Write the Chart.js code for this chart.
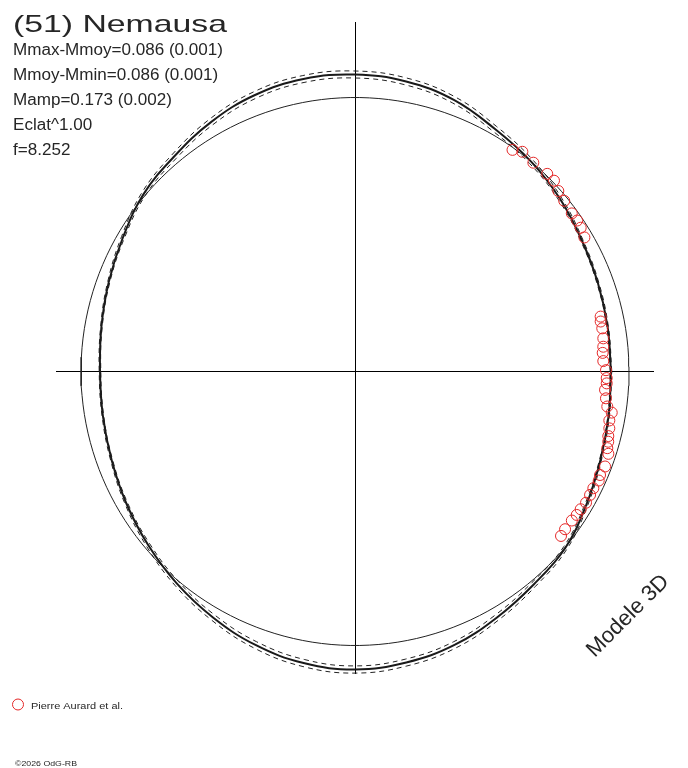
<!DOCTYPE html>
<html>
<head>
<meta charset="utf-8">
<script src="https://cdn.jsdelivr.net/npm/chart.js@4.4.1/dist/chart.umd.min.js"></script>
<style>
  html, body { margin: 0; padding: 0; background: #fff; }
  canvas { display: block; }
</style>
</head>
<body>
<canvas id="chart" width="688" height="768"></canvas>
<script>
// rotational phase (deg) and plotted radius of the 3D model curve
const modelPhase = [0, 10, 20, 30, 40, 50, 60, 70, 80, 90, 100, 110, 120, 130, 140, 150, 160, 170,
                    180, 190, 200, 210, 220, 230, 240, 250, 260, 270, 280, 290, 300, 310, 320, 330, 340, 350];
const modelRadius = [256, 256.5, 258.5, 262, 268, 274, 280, 289, 294.5, 297, 297, 294, 288, 281, 276, 268, 262, 257.5,
                     255, 256, 259, 264, 270, 277, 284, 291, 296, 298, 295.5, 291, 284, 278, 274.5, 267, 261, 257.5];
// half width of the dashed uncertainty envelope
const modelSpread = [0.8, 0.8, 1, 1.2, 1.8, 2.4, 3, 3.3, 3.5, 3.5, 3.5, 3.4, 3.2, 2.8, 2.2, 1.6, 1.1, 0.8,
                     0.8, 0.8, 1, 1.4, 2, 2.6, 3, 3.4, 3.6, 3.6, 3.5, 3.3, 3, 2.6, 2, 1.5, 1, 0.8];

// observations (Pierre Aurard et al.)
const obsPhase = [54.6, 52.7, 49.5, 45.8, 43.8, 41.6, 39.2, 36.1, 34.2, 32.5, 30.3,
                  12.6, 11.5, 9.9, 7.6, 5.7, 4.3, 2.4, 0.3, 358.5, 357.3, 355.8, 353.9, 352.1, 350.9,
                  349.1, 347.4, 345.7, 344.5, 343.1, 342.0, 339.2, 337.1, 335.9, 333.9, 332.3, 330.4,
                  328.6, 327.1, 325.5, 323.1, 321.4];
const obsRadius = [271.9, 276.2, 274.6, 275.7, 275.7, 271.9, 270.0, 268.3, 268.6, 267.6, 265.7,
                   251.7, 250.7, 251.0, 250.5, 249.5, 248.4, 248.5, 251.0, 251.8, 252.0, 250.7, 252.4, 254.7, 260.0,
                   259.0, 260.6, 261.4, 262.8, 263.7, 266.4, 267.5, 266.0, 267.0, 265.4, 265.5, 265.7,
                   264.4, 264.1, 263.1, 262.7, 263.6];

// mean level circle
const refRadius = 274;

const titleText = '(51) Nemausa';
const statLines = ['Mmax-Mmoy=0.086 (0.001)', 'Mmoy-Mmin=0.086 (0.001)', 'Mamp=0.173 (0.002)', 'Eclat^1.00', 'f=8.252'];
const legendLabel = 'Pierre Aurard et al.';
const modelLabel = 'Modele 3D';
const creditText = '\u00a92026 OdG-RB';

const RED = 'rgb(228,40,40)';
const FONT = '"Liberation Sans", Arial, sans-serif';

function toXY(r, deg) {
  const a = deg * Math.PI / 180;
  return { x: r * Math.cos(a), y: r * Math.sin(a) };
}

function closedCurve(offsetSign) {
  const pts = modelPhase.map((p, i) => toXY(modelRadius[i] + offsetSign * modelSpread[i], p));
  pts.push(pts[0]);
  return pts;
}

const refCircle = [];
for (let d = 1; d <= 361; d += 2) refCircle.push(toXY(refRadius, d));

const obsPoints = obsPhase.map((p, i) => toXY(obsRadius[i], p));

// draws text squeezed/stretched to a given width
function fitText(ctx, text, x, y, font, width) {
  ctx.font = font;
  const w = ctx.measureText(text).width;
  ctx.save();
  ctx.translate(x, y);
  ctx.scale(width / w, 1);
  ctx.fillText(text, 0, 0);
  ctx.restore();
}

const textPlugin = {
  id: 'textLayer',
  afterDraw(chart) {
    const ctx = chart.ctx;
    ctx.save();
    ctx.fillStyle = '#262626';
    ctx.textBaseline = 'alphabetic';
    ctx.textAlign = 'left';

    fitText(ctx, titleText, 13, 32, '24px ' + FONT, 214);

    ctx.font = '16px ' + FONT;
    statLines.forEach((t, i) => {
      const w = ctx.measureText(t).width;
      fitText(ctx, t, 13, 55 + i * 25, '16px ' + FONT, w * 1.066);
    });

    // legend
    ctx.strokeStyle = RED;
    ctx.lineWidth = 1;
    ctx.beginPath();
    ctx.arc(18, 704.5, 5.5, 0, Math.PI * 2);
    ctx.stroke();
    fitText(ctx, legendLabel, 31, 709, '9px ' + FONT, 92);

    fitText(ctx, creditText, 15, 766, '8px ' + FONT, 62);

    // rotated model label
    ctx.save();
    ctx.translate(628, 616);
    ctx.rotate(-Math.PI / 4);
    ctx.font = '22px ' + FONT;
    ctx.textAlign = 'center';
    ctx.textBaseline = 'middle';
    ctx.fillText(modelLabel, 0, 0);
    ctx.restore();

    ctx.restore();
  }
};

const zeroOnly = scale => { scale.ticks = [{ value: 0 }]; };

const axisOpts = (min, max) => ({
  type: 'linear',
  min: min,
  max: max,
  afterBuildTicks: zeroOnly,
  ticks: { display: false },
  border: { display: false },
  grid: { color: '#000', lineWidth: 1, drawTicks: false }
});

new Chart(document.getElementById('chart'), {
  type: 'scatter',
  data: {
    datasets: [
      {
        label: legendLabel,
        data: obsPoints,
        showLine: false,
        pointStyle: 'circle',
        pointRadius: 5.5,
        pointBorderWidth: 1,
        pointBorderColor: RED,
        pointBackgroundColor: 'rgba(0,0,0,0)',
        order: 0
      },
      {
        label: 'model',
        data: closedCurve(0),
        showLine: true,
        borderColor: '#1a1a1a',
        borderWidth: 2,
        tension: 0.4,
        pointRadius: 0,
        order: 1
      },
      {
        label: 'model +',
        data: closedCurve(1),
        showLine: true,
        borderColor: '#222',
        borderWidth: 1,
        borderDash: [5, 4],
        tension: 0.4,
        pointRadius: 0,
        order: 2
      },
      {
        label: 'model -',
        data: closedCurve(-1),
        showLine: true,
        borderColor: '#222',
        borderWidth: 1,
        borderDash: [5, 4],
        tension: 0.4,
        pointRadius: 0,
        order: 3
      },
      {
        label: 'mean',
        data: refCircle,
        showLine: true,
        borderColor: '#222',
        borderWidth: 1,
        tension: 0,
        pointRadius: 0,
        order: 4
      }
    ]
  },
  options: {
    responsive: false,
    animation: false,
    devicePixelRatio: 1,
    layout: { padding: { left: 56, right: 34, top: 22, bottom: 94 } },
    plugins: {
      legend: { display: false },
      tooltip: { enabled: false }
    },
    scales: {
      x: axisOpts(-299, 299),
      y: axisOpts(-302.5, 349.5)
    }
  },
  plugins: [textPlugin]
});
</script>
</body>
</html>
